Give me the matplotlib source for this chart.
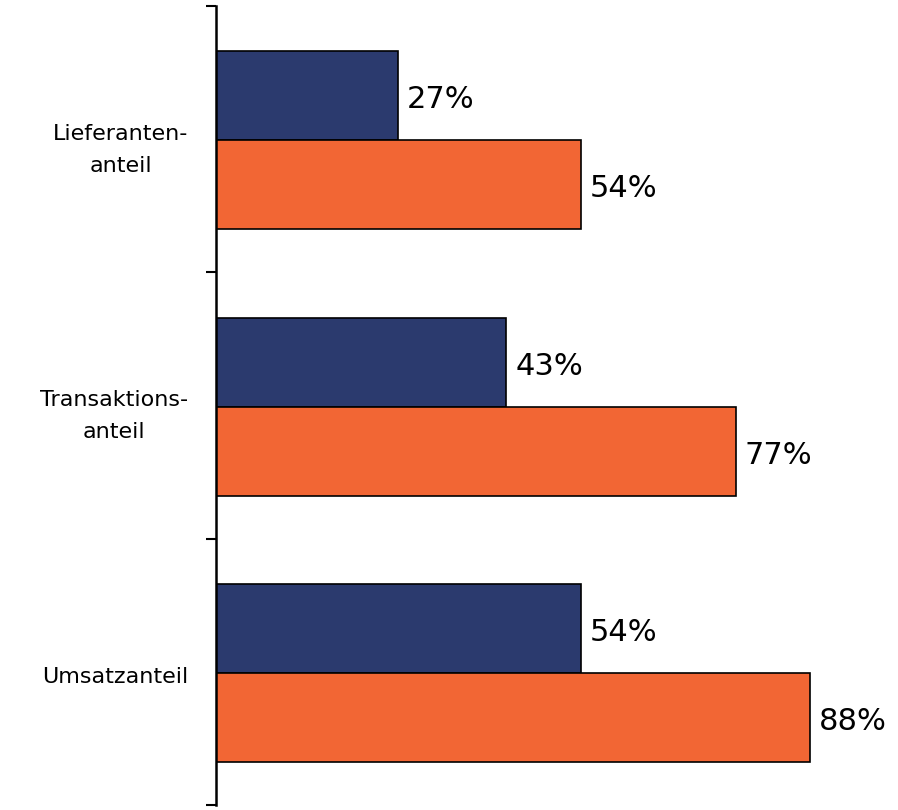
import matplotlib
matplotlib.use("Agg")
import matplotlib.pyplot as plt
import matplotlib.transforms as mtransforms
import numpy as np

# data
categories = ["Lieferanten-\nanteil", "Transaktions-\nanteil", "Umsatzanteil"]
series_a = [27, 43, 54]   # navy
series_b = [54, 77, 88]   # orange
navy = "#2B3A6E"
orange = "#F26634"

fig = plt.figure(figsize=(8.98, 8.10), dpi=100)
ax = fig.add_axes([0.2405, 0.006, 0.752, 0.987])

y = np.arange(len(categories)) + 0.5
h = 1.0 / 3

ax.barh(y - h / 2 + 0.005, series_a, height=h, color=navy, edgecolor="black", linewidth=1.2)
ax.barh(y + h / 2 + 0.005, series_b, height=h, color=orange, edgecolor="black", linewidth=1.2)

for yy, v in zip(y - h / 2, series_a):
    ax.text(v + 1.3, yy + 0.02, f"{v}%", va="center", ha="left", fontsize=22)
for yy, v in zip(y + h / 2, series_b):
    ax.text(v + 1.3, yy + 0.02, f"{v}%", va="center", ha="left", fontsize=22)

ax.set_xlim(0, 100)
ax.set_ylim(3, 0)

ax.set_yticks(y)
ax.set_yticklabels(categories, fontsize=16, multialignment="center", linespacing=1.75)
ax.tick_params(axis="y", which="major", length=0, pad=20)
ax.set_yticks(np.arange(len(categories) + 1), minor=True)
ax.tick_params(axis="y", which="minor", length=7, width=1.5, direction="out")
ax.set_xticks([])

# labels sit a little below the category centre in the reference
shift = mtransforms.ScaledTranslation(0, -3 / 100, fig.dpi_scale_trans)
for lab in ax.get_yticklabels():
    lab.set_transform(lab.get_transform() + shift)

for s in ["top", "right", "bottom"]:
    ax.spines[s].set_visible(False)
ax.spines["left"].set_linewidth(1.8)

fig.savefig("out.png", dpi=100)
